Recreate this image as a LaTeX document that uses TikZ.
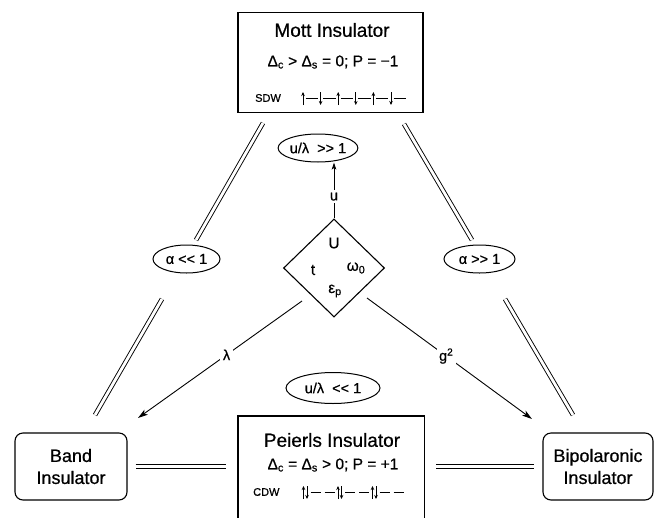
\documentclass[tikz,border=0pt]{standalone}
\usepackage{fontspec}
\setmainfont{Liberation Sans}[FakeBold=0.6]
\usetikzlibrary{arrows.meta,shapes.geometric}
\begin{document}
\begin{tikzpicture}[x=1pt,y=-1pt,
  box/.style={draw, line width=1.4pt, minimum width=185pt, minimum height=100pt, inner sep=0},
  rbox/.style={draw, line width=1.1pt, rounded corners=8pt, minimum height=67pt, align=center, font=\fontsize{18}{22}\selectfont, inner sep=0},
  ell/.style={draw, ellipse, line width=1pt, inner sep=0, font=\fontsize{14.5}{16}\selectfont},
  dbl/.style={double, double distance=2.8pt, line width=0.9pt},
  arr/.style={line width=0.9pt, -{Stealth[length=10pt,width=6pt,inset=2.5pt]}},
  lbl/.style={fill=white, inner sep=2.5pt, font=\fontsize{14.5}{16}\selectfont},
  ttl/.style={font=\fontsize{19}{21}\selectfont, inner sep=0},
  eqn/.style={font=\fontsize{15.5}{17}\selectfont, inner sep=0},
  dtxt/.style={font=\fontsize{15.5}{17}\selectfont, inner sep=0},
  small/.style={font=\fontsize{11}{12}\selectfont, inner sep=0},
  spin/.style={line width=0.8pt, -{Stealth[length=4pt,width=3.5pt]}},
  bond/.style={line width=0.8pt},
]
\useasboundingbox (0,0) rectangle (656,517);
\fill[white] (0,0) rectangle (656,517);

% Mott insulator
\node[box] (mott) at (330.5,62.5) {};
\node[ttl] (mottT) at (332,30) {Mott Insulator};
\node[eqn] (mottE) at (333,62) {Δ\textsubscript{c} > Δ\textsubscript{s} = 0; P = −1};
\node[small, anchor=west] (sdw) at (255,98) {SDW};
\foreach \i in {0,...,5}{
  \pgfmathsetmacro{\xx}{303+17.6*\i}
  \ifodd\i
    \draw[spin] (\xx,92) -- (\xx,105);
  \else
    \draw[spin] (\xx,105) -- (\xx,92);
  \fi
  \draw[bond] (\xx+2.5,98) -- (\xx+15,98);
}

% Peierls insulator (box runs off the bottom edge)
\node[minimum width=186pt, minimum height=104pt, inner sep=0] (peierls) at (331,468) {};
\draw[line width=1.4pt] (peierls.south west) -- (peierls.north west) -- (peierls.north east) -- (peierls.south east);
\node[ttl] (peiT) at (332,440) {Peierls Insulator};
\node[eqn] (peiE) at (333,465) {Δ\textsubscript{c} = Δ\textsubscript{s} > 0; P = +1};
\node[small, anchor=west] (cdw) at (253,492) {CDW};
\foreach \k in {0,1,2}{
  \pgfmathsetmacro{\xx}{303.5+34.5*\k}
  \draw[spin] (\xx,499) -- (\xx,486);
  \draw[spin] (\xx+3.5,486) -- (\xx+3.5,499);
  \draw[bond] (\xx+7,492.5) -- (\xx+17,492.5);
  \draw[bond] (\xx+21,492.5) -- (\xx+31,492.5);
}

% Band and bipolaronic insulators
\node[rbox, minimum width=112pt] (band) at (71,466.5) {Band\\Insulator};
\node[rbox, minimum width=110pt] (bipol) at (598,466.5) {Bipolaronic\\Insulator};

% Central diamond
\node[draw, diamond, minimum width=101pt, minimum height=98pt, inner sep=0, line width=1.1pt] (dia) at (334,268) {};
\node[dtxt] (dU) at (334,243) {U};
\node[dtxt] (dt) at (313,270) {t};
\node[dtxt] (dw) at (356,268) {ω\textsubscript{0}};
\node[dtxt] (de) at (335,291) {ε\textsubscript{p}};

% Ellipses
\node[ell, minimum width=67pt, minimum height=28pt] (aL) at (186.5,259) {α <\kern0pt< 1};
\node[ell, minimum width=71pt, minimum height=28pt] (aR) at (479.5,259) {α >\kern0pt> 1};
\node[ell, minimum width=66pt, minimum height=28pt] (uT) at (318,148) {u/λ \ >\kern0pt> 1};
\node[ell, minimum width=94pt, minimum height=31pt] (uB) at (333,388) {u/λ \ <\kern0pt< 1};

% Double-line connectors
\coordinate (a1) at (263,123); \coordinate (a2) at (196,240);
\coordinate (a3) at (162,299); \coordinate (a4) at (95,415);
\coordinate (b1) at (404,124); \coordinate (b2) at (472,240);
\coordinate (b3) at (505,299); \coordinate (b4) at (573,415);
\draw[dbl] (a1) -- (a2);
\draw[dbl] (a3) -- (a4);
\draw[dbl] (b1) -- (b2);
\draw[dbl] (b3) -- (b4);
\draw[dbl, shorten <=8pt, shorten >=12pt] (band.east) -- (band.east -| peierls.west);
\draw[dbl, shorten <=12pt, shorten >=8pt] (bipol.west -| peierls.east) -- (bipol.west);

% Arrows from the diamond
\draw[arr, -{Stealth[length=7pt,width=4.5pt,inset=1.5pt]}] (dia.north) -- node[lbl, pos=0.39] (ulbl) {u} (dia.north |- uT.south);
\coordinate (lamS) at (302,301); \coordinate (lamE) at (138,418);
\coordinate (gS) at (367,298); \coordinate (gE) at (532,419);
\draw[arr] (lamS) -- node[lbl, pos=0.46] (lam) {λ} (lamE);
\draw[arr] (gS) -- node[lbl, pos=0.48] (g2) {g\textsuperscript{2}} (gE);
\end{tikzpicture}
\end{document}
